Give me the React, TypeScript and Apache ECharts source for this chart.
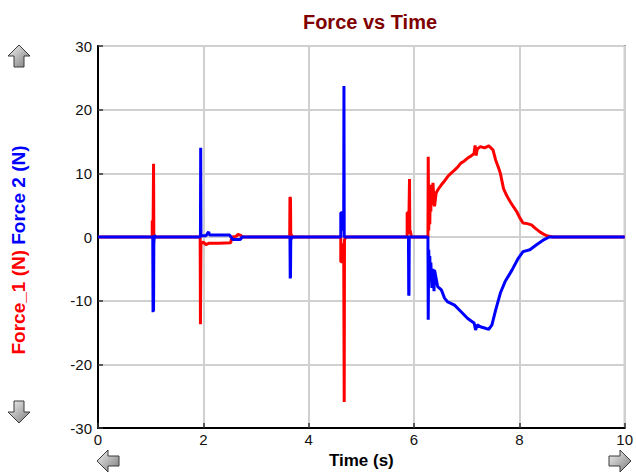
import { useEffect, useRef } from 'react';
import * as echarts from 'echarts';

// Force_1 (N) — red trace, [time (s), force (N)]
const force1Points: [number, number][] = [
  [0, 0], [1.03, 0], [1.03, 2.6], [1.04, 2.6], [1.045, 0.5], [1.055, 11.5], [1.06, 0.3], [1.07, 0.2], [1.1, 0],
  [1.94, 0], [1.945, -13.7], [1.955, -1], [2.0, -0.8], [2.05, -1.2], [2.1, -1], [2.3, -1], [2.52, -0.9],
  [2.54, 0], [2.62, 0.1], [2.66, 0.4], [2.72, 0.2], [2.74, 0],
  [3.64, 0], [3.645, 6.3], [3.655, 6.0], [3.66, 0.5], [3.68, 0.2], [3.7, 0],
  [4.61, 0], [4.61, -3.9], [4.66, -3.9], [4.665, -1], [4.675, -25.9], [4.68, -0.5], [4.7, 0],
  [5.87, 0], [5.87, 3.8], [5.89, 3.8], [5.9, 1], [5.915, 9.1], [5.92, 0.5], [5.93, 1], [5.95, 0],
  [6.265, 0], [6.27, 12.6], [6.28, 1], [6.29, 7], [6.3, 2], [6.31, 8], [6.32, 4], [6.33, 8.2],
  [6.34, 5], [6.36, 8.5], [6.38, 5.5], [6.39, 4.8], [6.42, 6.9], [6.46, 7.5], [6.52, 8.2],
  [6.58, 8.8], [6.64, 9.5], [6.7, 10], [6.77, 10.5], [6.83, 11], [6.89, 11.6], [6.95, 11.9],
  [7.02, 12.4], [7.08, 12.7], [7.14, 13.1], [7.16, 14.4], [7.18, 12.8], [7.2, 13.8], [7.26, 14.2],
  [7.34, 14.0], [7.42, 14.3], [7.5, 13.7], [7.55, 12.1], [7.6, 11.0], [7.64, 10.0], [7.7, 7.6],
  [7.76, 6.5], [7.83, 5.5], [7.9, 4.6], [7.95, 4.0], [8.01, 3.0], [8.07, 2.2], [8.15, 2.1],
  [8.23, 1.9], [8.3, 1.4], [8.39, 0.8], [8.47, 0.4], [8.54, 0.15], [8.64, 0], [10, 0],
];

// Force 2 (N) — blue trace, [time (s), force (N)]
const force2Points: [number, number][] = [
  [0, 0], [1.04, 0], [1.045, -11.8], [1.05, -2], [1.055, -11.6], [1.06, -1], [1.07, 0.2], [1.1, 0],
  [1.945, 0], [1.95, 14], [1.955, 0.2], [2.05, 0.2], [2.1, 0.8], [2.12, 0.3], [2.4, 0.3], [2.5, 0.3],
  [2.56, -0.4], [2.7, -0.4], [2.74, 0],
  [3.645, 0], [3.65, -6.5], [3.655, -6.2], [3.66, -0.5], [3.68, 0],
  [4.61, 0], [4.61, 3.8], [4.66, 3.8], [4.665, 1], [4.67, 23.7], [4.675, 0],
  [5.895, 0], [5.9, -9.2], [5.905, -9], [5.91, 0],
  [6.265, 0], [6.27, -13], [6.28, -2], [6.29, -6], [6.3, -3], [6.31, -7], [6.32, -4], [6.34, -8],
  [6.36, -5], [6.38, -8.5], [6.39, -5.2], [6.45, -7.8], [6.52, -8.3], [6.58, -9.6], [6.64, -10.2],
  [6.77, -10.7], [6.89, -11.7], [7.02, -12.8], [7.14, -13.5], [7.17, -14.6], [7.2, -13.8],
  [7.26, -14.1], [7.34, -14.3], [7.42, -14.5], [7.48, -13.8], [7.55, -11.5], [7.64, -8.8],
  [7.73, -7.0], [7.86, -5.2], [7.98, -3.35], [8.07, -2.3], [8.2, -2.0], [8.32, -1.26],
  [8.45, -0.5], [8.57, 0], [10, 0],
];

const xAxisRange = { min: 0, max: 10, interval: 2 };
const yAxisRange = { min: -30, max: 30, interval: 10 };

const arrowBase: [number, number][] = [[0, -11], [11, 0], [5, 0], [5, 11], [-5, 11], [-5, 0], [-11, 0]];

function arrow(cx: number, cy: number, dir: 'up' | 'down' | 'left' | 'right') {
  const pts = arrowBase.map(([x, y]) => {
    let p: [number, number];
    if (dir === 'up') p = [x, y];
    else if (dir === 'down') p = [x, -y];
    else if (dir === 'left') p = [y, x];
    else p = [-y, x];
    return [cx + p[0], cy + p[1]];
  });
  return {
    type: 'polygon',
    shape: { points: pts },
    style: {
      fill: {
        type: 'linear', x: 0, y: 0, x2: 1, y2: 1,
        colorStops: [
          { offset: 0, color: '#f4f4f4' },
          { offset: 1, color: '#7a7a7a' },
        ],
      },
      stroke: '#3a3a3a',
      lineWidth: 1,
    },
    silent: true,
  };
}

export default function App() {
  const ref = useRef<HTMLDivElement>(null);
  useEffect(() => {
    if (!ref.current) return;
    const chart = echarts.init(ref.current, null, { renderer: 'svg' });
    const font = 'Liberation Sans, Arial, sans-serif';
    chart.setOption({
      animation: false,
      backgroundColor: '#ffffff',
      title: {
        text: 'Force vs Time',
        left: 365,
        top: 7,
        textAlign: 'center',
        textStyle: { color: '#800000', fontWeight: 'bold', fontSize: 20, fontFamily: font },
      },
      grid: {
        left: 98, right: 2, top: 46, bottom: 46,
        show: true, borderColor: '#000', borderWidth: 1.5, backgroundColor: '#fff',
      },
      xAxis: {
        type: 'value',
        ...xAxisRange,
        name: 'Time (s)',
        nameLocation: 'middle',
        nameGap: 24,
        nameTextStyle: { color: '#000', fontWeight: 'bold', fontSize: 17, fontFamily: font },
        axisLine: { show: true, onZero: false, lineStyle: { color: '#000', width: 2 } },
        axisTick: { show: true, inside: true, length: 5, lineStyle: { color: '#333', width: 1.5 } },
        axisLabel: { color: '#111', fontSize: 15, fontFamily: font, margin: 4 },
        splitLine: { show: true, lineStyle: { color: '#d0d0d0', width: 2 } },
      },
      yAxis: {
        type: 'value',
        ...yAxisRange,
        axisLine: { show: true, onZero: false, lineStyle: { color: '#000', width: 2 } },
        axisTick: { show: true, inside: true, length: 5, lineStyle: { color: '#333', width: 1.5 } },
        axisLabel: { color: '#111', fontSize: 15, fontFamily: font, margin: 6 },
        splitLine: { show: true, lineStyle: { color: '#d0d0d0', width: 2 } },
      },
      series: [
        {
          name: 'Force_1 (N)',
          type: 'line',
          data: force1Points,
          showSymbol: false,
          lineStyle: { color: '#ff0000', width: 3 },
          itemStyle: { color: '#ff0000' },
        },
        {
          name: 'Force 2 (N)',
          type: 'line',
          data: force2Points,
          showSymbol: false,
          lineStyle: { color: '#0000ff', width: 3 },
          itemStyle: { color: '#0000ff' },
        },
      ],
      graphic: [
        {
          type: 'text',
          x: 18,
          y: 250,
          rotation: Math.PI / 2,
          silent: true,
          style: {
            text: '{a|Force_1 (N)} {b|Force 2 (N)}',
            fontSize: 19,
            fontWeight: 'bold',
            fontFamily: font,
            textAlign: 'center',
            textVerticalAlign: 'middle',
            align: 'center',
            verticalAlign: 'middle',
            rich: {
              a: { fill: '#ff0000', color: '#ff0000', fontWeight: 'bold', fontSize: 19, fontFamily: font },
              b: { fill: '#0000ff', color: '#0000ff', fontWeight: 'bold', fontSize: 19, fontFamily: font },
            },
          },
        },
        arrow(19, 56, 'up'),
        arrow(19, 412, 'down'),
        arrow(108, 461, 'left'),
        arrow(620, 461, 'right'),
      ],
    });
    return () => chart.dispose();
  }, []);
  return <div ref={ref} style={{ position: 'fixed', left: 0, top: 0, width: 636, height: 474 }} />;
}
